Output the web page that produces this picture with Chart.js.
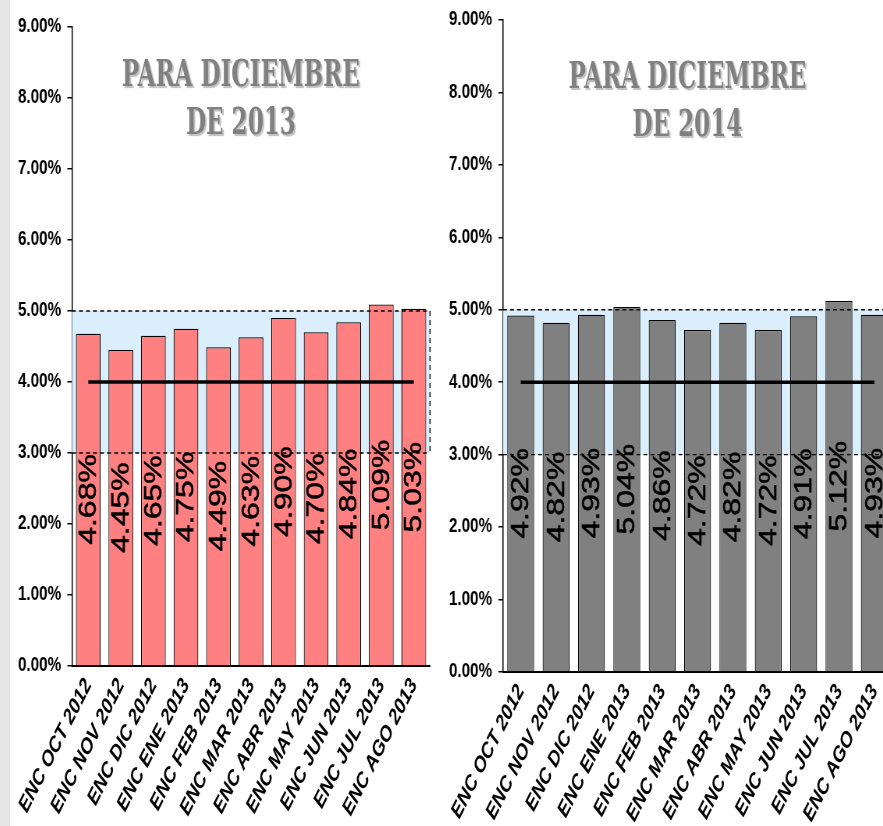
<!DOCTYPE html>
<html><head><meta charset="utf-8">
<script src="https://cdn.jsdelivr.net/npm/chart.js@4.4.0/dist/chart.umd.min.js"></script>
<style>
html,body{margin:0;padding:0;width:883px;height:826px;overflow:hidden;background:#fff;position:relative}
#strip{position:absolute;left:0;top:0;width:10px;height:826px;background:#e6e6e6}
canvas{position:absolute;top:0;transform-origin:0 0;transform:scaleX(0.78)}
#c1{left:10px}
#c2{left:440px}
</style></head><body>
<div id="strip"></div>
<canvas id="c1" width="551" height="826"></canvas>
<canvas id="c2" width="600" height="826"></canvas>
<script>
// ---- data ----
const categories = ["ENC OCT 2012","ENC NOV 2012","ENC DIC 2012","ENC ENE 2013","ENC FEB 2013","ENC MAR 2013","ENC ABR 2013","ENC MAY 2013","ENC JUN 2013","ENC JUL 2013","ENC AGO 2013"];
const values2013 = [4.68, 4.45, 4.65, 4.75, 4.49, 4.63, 4.90, 4.70, 4.84, 5.09, 5.03];
const values2014 = [4.92, 4.82, 4.93, 5.04, 4.86, 4.72, 4.82, 4.72, 4.91, 5.12, 4.93];
const targetLine = [4.0, 4.0, 4.0, 4.0, 4.0, 4.0, 4.0, 4.0, 4.0, 4.0, 4.0];
const bandLow = 3.0, bandHigh = 5.0;
const yMin = 0, yMax = 9, yStep = 1;
const title2013 = ["PARA DICIEMBRE", "DE 2013"];
const title2014 = ["PARA DICIEMBRE", "DE 2014"];

const SANS = '"Liberation Sans", Arial, sans-serif';

const decorPlugin = {
  id: 'decor',
  beforeDatasetsDraw(chart) {
    const {ctx, chartArea: a, scales: {y}} = chart;
    const yt = y.getPixelForValue(bandHigh), yb = y.getPixelForValue(bandLow);
    ctx.save();
    ctx.fillStyle = '#daeefb';
    ctx.fillRect(a.left, yt, a.right - a.left, yb - yt);
    ctx.restore();
  },
  afterDatasetsDraw(chart) {
    const {ctx, chartArea: a, scales: {y}} = chart;
    const yt = y.getPixelForValue(bandHigh), yb = y.getPixelForValue(bandLow);
    ctx.save();
    ctx.strokeStyle = '#000';
    ctx.lineWidth = 1.4;
    ctx.setLineDash([5, 4]);
    ctx.beginPath();
    ctx.moveTo(a.left, yt); ctx.lineTo(a.right, yt);
    ctx.moveTo(a.left, yb); ctx.lineTo(a.right, yb);
    ctx.moveTo(a.right, yt); ctx.lineTo(a.right, yb);
    ctx.stroke();
    ctx.restore();
    // value labels
    const meta = chart.getDatasetMeta(1);
    const data = chart.data.datasets[1].data;
    ctx.save();
    ctx.fillStyle = '#000';
    ctx.strokeStyle = '#000';
    ctx.lineWidth = 0.6;
    ctx.font = '32px ' + SANS;
    ctx.textAlign = 'center';
    ctx.textBaseline = 'middle';
    meta.data.forEach((bar, i) => {
      const cy = (bar.y + bar.base) / 2;
      ctx.save();
      ctx.translate(bar.x, cy);
      ctx.rotate(-Math.PI / 2);
      ctx.fillText(data[i].toFixed(2) + '%', 0, 1);
      ctx.strokeText(data[i].toFixed(2) + '%', 0, 1);
      ctx.restore();
    });
    ctx.restore();
  },
  afterDraw(chart, args, opts) {
    const {ctx, chartArea: a} = chart;
    const cx = (a.left + a.right) / 2 - 13;
    ctx.save();
    ctx.font = 'bold 38px "DejaVu Serif", serif';
    const w = ctx.measureText(opts.lines[0]).width;
    const sx = 305 / w;
    ctx.textAlign = 'center';
    ctx.textBaseline = 'middle';
    ctx.fillStyle = '#808080';
    ctx.shadowColor = 'rgba(0,0,0,0.25)';
    ctx.shadowOffsetX = 2;
    ctx.shadowOffsetY = 2;
    ctx.shadowBlur = 1;
    opts.lines.forEach((t, i) => {
      ctx.save();
      ctx.translate(cx, opts.ys[i]);
      ctx.scale(sx, 1);
      ctx.fillText(t, 0, 0);
      ctx.restore();
    });
    ctx.restore();
  }
};

function makeChart(id, values, barColor, lines, ys, padTop, xHeight, yWidth, padRight) {
  return new Chart(document.getElementById(id), {
    data: {
      labels: categories,
      datasets: [
        { type: 'line', data: targetLine, borderColor: '#000', borderWidth: 3.5, pointRadius: 0, order: 1 },
        { type: 'bar', data: values, backgroundColor: barColor, borderColor: '#000', borderWidth: 1.2,
          categoryPercentage: 1.0, barPercentage: 0.76, order: 2 }
      ]
    },
    options: {
      responsive: false,
      animation: false,
      devicePixelRatio: 1,
      layout: { padding: { top: padTop, right: padRight, left: 0, bottom: 0 } },
      plugins: { legend: { display: false }, tooltip: { enabled: false }, decor: { lines: lines, ys: ys } },
      scales: {
        x: {
          grid: { display: false, drawTicks: false },
          border: { display: true, color: '#000', width: 2 },
          ticks: { autoSkip: false, maxRotation: 57, minRotation: 57, padding: 8, color: '#000',
                   font: { family: SANS, size: 22, weight: 'bold', style: 'italic' } },
          afterFit(s) { s.height = xHeight; }
        },
        y: {
          min: yMin, max: yMax,
          grid: { drawOnChartArea: false, drawTicks: true, tickLength: 6, color: '#000', lineWidth: 1.5 },
          border: { display: true, color: '#000', width: 1.5 },
          ticks: { stepSize: yStep, padding: 8, color: '#000',
                   font: { family: SANS, size: 19.5, weight: 'bold' },
                   callback: v => v.toFixed(2) + '%' },
          afterFit(s) { s.width = yWidth; }
        }
      }
    },
    plugins: [decorPlugin]
  });
}

makeChart('c1', values2013, '#ff8080', title2013, [76, 124], 27, 160, 79.5, 12.5);
makeChart('c2', values2014, '#808080', title2014, [78, 126], 20, 154, 80.8, 20.5);
</script>
</body></html>
